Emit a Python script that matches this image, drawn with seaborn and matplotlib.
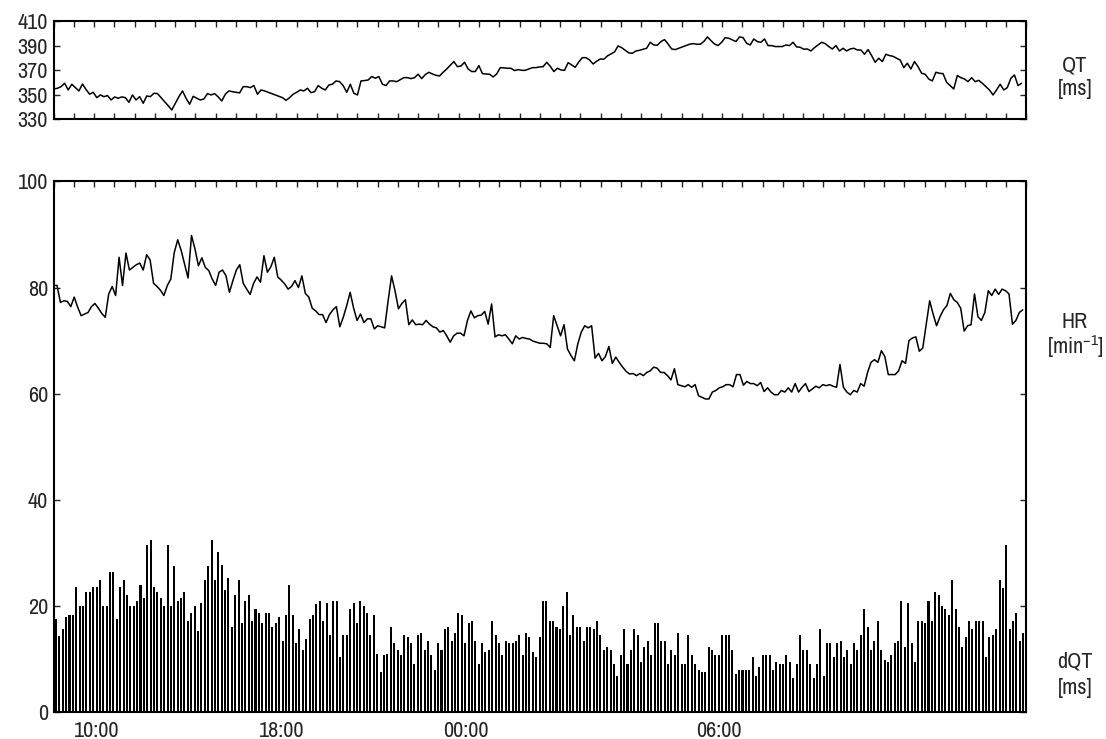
"""
QT / HR / dQT over 24 h Holter recording
Three stacked traces: QT (top), heart rate line and dQT bars (bottom)
"""

import numpy as np
import matplotlib
matplotlib.use('Agg')
import matplotlib.pyplot as plt
import matplotlib.font_manager as fm
import seaborn as sns

# QT interval [ms], sampled evenly over the recording
qt_values = [
    354.6, 355.2, 356.5, 359.3, 353.8, 358.5, 355.7, 353.0, 358.7, 354.1,
    350.3, 351.9, 347.5, 349.7, 348.3, 349.2, 345.6, 348.1, 347.0, 348.1,
    347.5, 343.7, 349.7, 345.6, 348.3, 342.9, 348.9, 348.3, 351.1, 350.8,
    347.5, 344.2, 340.9, 337.4, 342.9, 348.3, 353.0, 347.0, 342.1, 348.6,
    347.0, 345.6, 346.4, 350.8, 349.7, 350.8, 348.1, 344.8, 350.3, 353.0,
    352.4, 351.9, 351.4, 356.5, 356.5, 355.7, 357.4, 350.3, 353.8, 353.0,
    351.9, 350.8, 349.7, 348.6, 347.5, 345.3, 347.5, 350.3, 351.9, 353.8,
    353.0, 355.2, 351.6, 352.4, 357.4, 355.2, 353.8, 357.9, 358.5, 361.2,
    360.6, 357.4, 351.9, 358.5, 351.1, 349.7, 361.2, 361.5, 362.0, 364.8,
    363.4, 364.8, 358.5, 357.4, 361.2,
    361.2, 360.6, 362.3, 363.9, 363.9, 363.1, 363.9, 366.7, 363.1, 366.4,
    368.3, 366.9, 365.8, 365.3, 368.3, 371.0, 374.0, 377.1, 372.9, 373.5,
    376.5, 371.0, 368.9, 368.9, 373.8, 367.2, 366.9, 366.7, 364.5, 366.9,
    372.1, 371.9, 371.6, 371.6, 369.7, 370.5, 369.9, 369.9, 371.0, 372.1,
    372.1, 372.7, 372.9, 376.5, 373.2, 368.9, 371.6, 370.2, 369.9, 376.2,
    374.3, 372.4, 376.8, 380.3, 380.3, 378.4, 375.1, 377.3, 379.2, 379.0,
    381.7, 383.3, 385.0, 389.9, 388.5, 386.3, 384.2, 383.9, 385.8, 386.3,
    387.2, 388.0, 392.9, 390.7, 390.5, 393.5, 395.1, 391.5, 387.4, 386.9,
    388.0, 389.1, 390.2, 391.3, 391.8, 391.3, 391.3, 393.5, 397.3, 394.3,
    391.5, 390.2, 392.9, 396.7, 396.2, 394.8, 393.5, 397.3,
    396.7, 392.1, 390.7, 395.6, 393.5, 392.9, 395.6, 390.2, 390.2, 389.4,
    389.4, 389.4, 390.7, 390.2, 392.9, 389.1, 388.8, 387.2, 387.4, 385.8,
    388.5, 390.7, 392.9, 391.8, 389.4, 387.4, 390.2, 385.8, 388.0, 385.8,
    387.4, 388.0, 386.6, 386.6, 383.1, 386.9, 382.0, 376.5, 379.8, 377.1,
    383.1, 382.0, 381.4, 379.8, 378.4, 372.1, 375.7, 371.0, 377.1, 372.9,
    367.5, 366.7, 362.8, 361.2, 368.3, 367.5, 367.2, 360.1, 357.4, 354.6,
    365.6, 363.9, 362.8, 360.6, 363.9, 360.6, 361.7, 359.3, 356.5, 353.8,
    349.7, 353.8, 358.5, 353.8, 355.7, 363.4, 366.1, 357.4, 359.3,
]

# heart rate [1/min]
hr_values = [
    80.4, 80.4, 77.2, 77.5, 77.4, 76.4, 78.2, 76.3, 74.7, 75.0,
    75.3, 76.4, 77.0, 76.1, 75.1, 74.4, 78.8, 80.2, 78.5, 85.7,
    80.4, 86.5, 83.3, 83.8, 84.3, 84.6, 83.3, 86.2, 85.2, 80.8,
    80.2, 79.5, 78.5, 80.4, 81.6, 86.6, 89.0, 87.0, 84.4, 81.8,
    89.8, 87.3, 84.1, 85.6, 83.8, 83.2, 81.6, 80.4, 82.9, 83.3,
    82.2, 79.1,
    81.3, 83.3, 84.3, 80.8, 79.7, 78.7, 80.8, 82.0, 81.0, 86.0,
    82.9, 83.9, 85.7, 82.0, 81.4, 80.7, 79.7, 80.2, 81.3, 80.0,
    82.2, 78.9, 78.2, 76.1, 75.6, 74.9, 74.9, 73.4, 74.9, 75.8,
    76.4, 72.6, 74.4, 76.6, 79.1, 76.1, 73.8, 75.0, 73.4, 74.1,
    74.1, 72.2, 72.8, 72.6, 72.4, 77.5,
    82.2, 79.4, 76.0, 77.0, 77.7, 73.0, 73.9, 73.0, 73.1, 73.0,
    73.8, 73.1, 72.6, 72.4, 71.6, 71.9, 70.9, 69.7, 70.9, 71.4,
    71.4, 70.9, 73.8, 75.6, 74.3, 74.7, 74.8, 75.5, 73.1, 76.9,
    70.7, 71.1, 70.9, 71.1, 70.3, 69.4, 70.9, 70.3, 70.6, 70.4,
    70.3, 69.9, 69.7, 69.5, 69.5, 69.4, 68.7, 74.7,
    72.8, 70.9, 73.0, 68.4, 67.2, 66.2, 69.4, 71.6, 72.8, 72.4,
    72.8, 66.7, 67.6, 66.2, 67.0, 68.9, 65.7, 66.9, 65.9, 65.0,
    64.2, 63.7, 63.8, 63.4, 63.8, 63.4, 64.0, 64.3, 65.0, 64.8,
    64.0, 64.0, 63.4, 62.6, 64.7, 61.7, 61.5, 61.3, 61.7, 61.2,
    61.7, 59.6, 59.3, 59.0, 59.0,
    60.3, 60.6, 61.1, 61.3, 61.7, 61.7, 61.3, 63.6, 63.6, 61.6,
    62.3, 61.9, 61.9, 61.5, 62.1, 60.4, 61.1, 60.3, 59.8, 59.8,
    60.6, 60.3, 61.1, 60.3, 61.9, 60.3, 61.2, 61.9, 60.4, 60.9,
    61.4, 61.1, 61.7, 61.5, 61.7, 61.4, 61.2, 65.5, 61.2, 60.3,
    59.8, 60.6, 60.3, 61.9, 61.4, 64.0, 65.9,
    66.4, 65.9, 68.1, 67.0, 63.6, 63.6, 63.6, 64.3, 66.2, 65.7,
    70.0, 70.5, 70.7, 68.0, 68.6, 73.0, 77.5, 75.0, 72.8, 74.5,
    75.8, 76.6, 78.9, 77.7, 77.2, 76.1, 71.8, 72.8, 73.0, 78.8,
    74.5, 73.8, 75.3, 79.4, 78.5, 79.7, 78.7, 79.7, 79.4, 78.8,
    73.1, 73.8, 75.3, 75.8,
]

# QT dispersion dQT [ms]
dqt_values = [
    17.6, 14.4, 15.7, 17.9, 18.3, 18.3, 23.6, 19.9, 19.9, 22.6,
    22.6, 23.6, 23.6, 24.9, 19.9, 19.9, 26.3, 26.3, 17.6, 23.6,
    24.9, 22.1, 19.9, 19.9, 21.0, 24.0, 21.4, 31.4, 32.4, 23.6,
    22.6, 21.4, 19.9, 31.4, 19.9, 27.6, 21.0, 21.4, 22.6, 17.2,
    18.7, 19.9, 15.2, 20.6, 24.9, 27.6, 32.4, 24.9,
    30.1, 27.8, 23.0, 25.3, 16.0, 22.1, 24.9, 16.8, 21.0, 22.1,
    17.2, 19.4, 18.7, 16.8, 18.7, 18.7, 16.0, 16.8, 17.9, 13.3,
    18.3, 24.0, 18.3, 13.0, 15.7, 11.7, 13.7, 17.6, 18.3, 20.3,
    21.0, 17.2, 20.6, 14.5, 21.0, 21.0, 10.3, 14.5, 14.5, 19.4,
    20.6, 16.8, 21.0, 19.9, 18.7, 14.5, 18.3, 11.0,
    7.5, 10.7, 11.0, 16.0, 13.0, 11.7, 10.7, 14.5, 14.1, 13.0,
    9.1, 14.5, 14.9, 11.7, 13.3, 10.7, 7.9, 13.0, 11.7, 15.7,
    16.0, 13.3, 14.9, 18.7, 18.3, 13.0, 16.8, 17.2, 13.3, 9.1,
    13.0, 11.4, 11.7, 17.2, 14.5, 13.0, 10.7, 13.3, 13.0, 13.0,
    13.3, 14.5, 10.7, 14.9, 14.1, 11.4, 10.3, 14.1,
    21.0, 21.0, 17.2, 17.2, 16.0, 15.7, 19.9, 22.6, 14.5, 18.3,
    16.0, 16.0, 13.3, 16.0, 16.0, 15.7, 17.2, 14.5, 11.7, 12.2,
    11.7, 9.1, 6.7, 10.7, 15.7, 9.1, 11.7, 15.7, 14.5, 9.4,
    12.2, 13.3, 10.7, 16.8, 16.8, 13.3, 13.3, 9.1, 11.7, 10.7,
    14.9, 9.1, 9.1, 14.5, 10.7, 9.1, 7.9, 7.5,
    7.5, 12.2, 11.7, 10.7, 10.7, 14.5, 14.5, 14.5, 11.7, 7.2,
    7.9, 7.9, 7.9, 7.9, 10.3, 6.7, 8.4, 10.7, 10.7, 10.7,
    7.9, 9.4, 9.1, 9.1, 10.7, 9.4, 6.4, 9.1, 14.5, 11.7,
    11.7, 9.1, 6.4, 9.1, 15.7, 6.7, 13.0, 13.0, 10.3, 13.0,
    13.3, 10.3, 11.7, 9.1, 13.0, 11.7, 14.5, 19.4,
    16.0, 11.7, 13.3, 17.2, 11.7, 9.8, 9.4, 10.7, 13.0, 13.3,
    21.0, 12.2, 20.6, 13.0, 9.4, 17.2, 17.2, 16.8, 21.0, 17.2,
    22.6, 22.1, 19.9, 19.4, 18.3, 24.9, 19.4, 16.0, 12.2, 14.1,
    17.2, 15.7, 17.2, 17.2, 17.2, 10.3, 14.1, 14.5, 15.7, 24.9,
    23.3, 31.4, 15.7, 17.2, 18.7, 13.4, 14.9,
]

time_labels = ['10:00', '18:00', '00:00', '06:00']

# --- layout (hours since start of recording) ---
T_END = 24.0
time_label_pos = [1.07, 5.64, 10.18, 16.42]
qt_span = (0.01, 23.89)
hr_span = (0.0, 23.92)
dqt_span = (0.06, 23.93)

sns.set_style('ticks')

# the original uses a narrow sans; take one if the system has it
font, stretch = 'Liberation Sans', 'normal'
for f in fm.fontManager.ttflist:
    if f.style != 'normal' or f.weight not in (400, 'normal', 'regular'):
        continue
    if 'Narrow' in f.name or 'Condensed' in f.name:
        font, stretch = f.name, 'normal'
        break
    if f.stretch in ('condensed', 'semi-condensed') and f.name in ('Noto Sans', 'Open Sans', 'Roboto'):
        font, stretch = f.name, f.stretch
plt.rcParams['font.family'] = [font, 'DejaVu Sans']
plt.rcParams['font.stretch'] = stretch
plt.rcParams['mathtext.fontset'] = 'custom'
plt.rcParams['mathtext.rm'] = font
FS = 16

fig = plt.figure(figsize=(11.06, 7.39), dpi=100)
ax_qt = fig.add_axes([0.0484, 0.839, 0.8793, 0.132])
ax = fig.add_axes([0.0484, 0.0365, 0.8793, 0.718])

qt_t = np.linspace(*qt_span, len(qt_values))
hr_t = np.linspace(*hr_span, len(hr_values))
dqt_t = np.linspace(*dqt_span, len(dqt_values))

# --- QT panel ---
sns.lineplot(x=qt_t, y=qt_values, color='black', lw=1.1, estimator=None, ax=ax_qt)
ax_qt.set_xlim(0, T_END)
ax_qt.set_ylim(330, 410)
ax_qt.set_yticks([330, 350, 370, 390, 410])
ax_qt.set_xticks(np.arange(0, T_END + 0.01, 0.5))
ax_qt.tick_params(axis='x', direction='in', top=True, bottom=True, labelbottom=False, length=4, width=1)
ax_qt.tick_params(axis='y', direction='in', left=True, right=True, length=4, width=1,
                  labelsize=FS, pad=4)

# --- HR + dQT panel ---
sns.barplot(x=dqt_t, y=dqt_values, native_scale=True, color='black', width=0.6,
            errorbar=None, linewidth=0, saturation=1, ax=ax)
sns.lineplot(x=hr_t, y=hr_values, color='black', lw=1.1, estimator=None, ax=ax)
ax.set_xlim(0, T_END)
ax.set_ylim(0, 100)
ax.set_yticks([0, 20, 40, 60, 80, 100])
ax.set_xticks(time_label_pos)
ax.set_xticklabels(time_labels)
ax.set_xticks(np.arange(0, T_END + 0.01, 0.5), minor=True)
ax.tick_params(axis='x', which='major', bottom=False, labelsize=FS, pad=3)
ax.tick_params(axis='x', which='minor', direction='in', top=True, bottom=False, length=4, width=1)
ax.tick_params(axis='y', direction='in', left=True, right=True, length=4, width=1,
               labelsize=FS, pad=4)

for a in (ax_qt, ax):
    a.set_xlabel('')
    a.set_ylabel('')
    for s in a.spines.values():
        s.set_visible(True)
        s.set_linewidth(1.5)
        s.set_color('black')

# right-hand channel labels
x_lab = 0.972
fig.text(x_lab, 1 - 65 / 739, 'QT', ha='center', va='center', fontsize=FS)
fig.text(x_lab, 1 - 89 / 739, '[ms]', ha='center', va='center', fontsize=FS)
fig.text(x_lab, 1 - 322 / 739, 'HR', ha='center', va='center', fontsize=FS)
fig.text(x_lab, 1 - 347 / 739, r'[min$^{\mathregular{-1}}$]', ha='center', va='center', fontsize=FS)
fig.text(x_lab, 1 - 662 / 739, 'dQT', ha='center', va='center', fontsize=FS)
fig.text(x_lab, 1 - 688 / 739, '[ms]', ha='center', va='center', fontsize=FS)

fig.savefig('out.png', dpi=100)
